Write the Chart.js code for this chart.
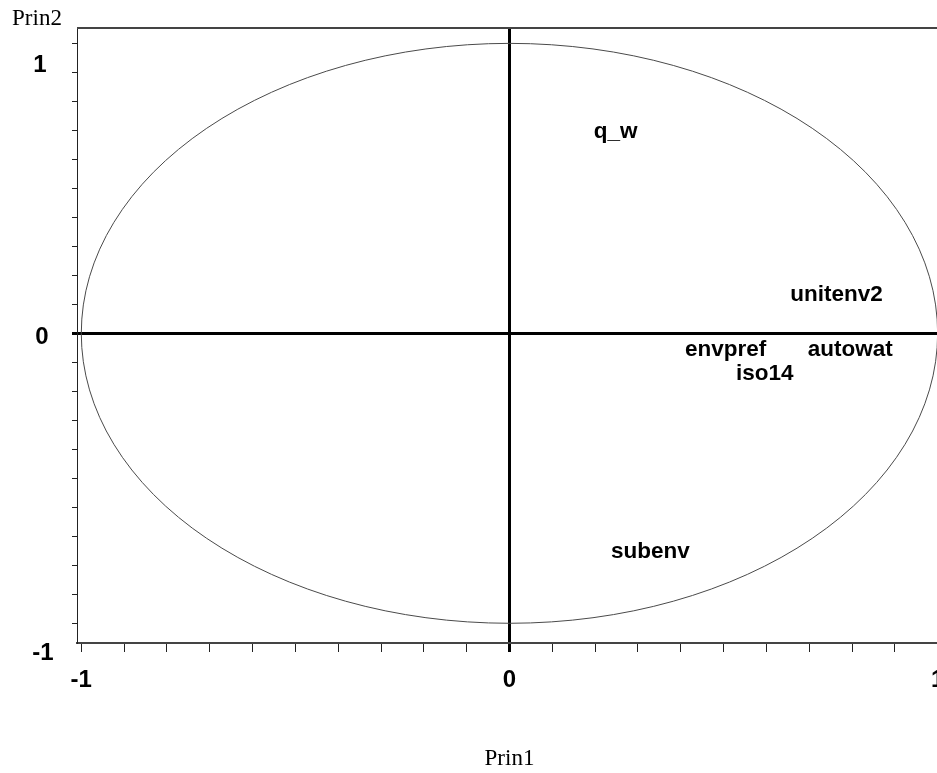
<!DOCTYPE html>
<html><head><meta charset="utf-8">
<script src="https://cdn.jsdelivr.net/npm/chart.js@4/dist/chart.umd.min.js"></script>
<style>html,body{margin:0;padding:0;background:#fff;overflow:hidden;width:937px;height:773px}canvas{display:block}</style>
</head><body><canvas id="c" width="960" height="773"></canvas>
<script>
// ---- data ----
const varNames = ['q_w', 'unitenv2', 'envpref', 'autowat', 'iso14', 'subenv'];
const prin1 = [0.248, 0.764, 0.505, 0.796, 0.596, 0.329];
const prin2 = [0.695, 0.134, -0.058, -0.058, -0.138, -0.754];
const xTickValues = [-1, -0.9, -0.8, -0.7, -0.6, -0.5, -0.4, -0.3, -0.2, -0.1, 0, 0.1, 0.2, 0.3, 0.4, 0.5, 0.6, 0.7, 0.8, 0.9, 1];
const yTickValues = [-1, -0.9, -0.8, -0.7, -0.6, -0.5, -0.4, -0.3, -0.2, -0.1, 0, 0.1, 0.2, 0.3, 0.4, 0.5, 0.6, 0.7, 0.8, 0.9, 1];
const xTickLabels = [-1, 0, 1];
const yTickLabels = [1, 0, -1];
const xTitle = 'Prin1';
const yTitle = 'Prin2';
const circleRadius = 1;

const near = (a, b) => Math.abs(a - b) < 1e-9;
const isZero = v => near(v, 0);
const isLabeled = (v, arr) => arr.some(a => near(a, v));

const overlay = {
  id: 'overlay',
  beforeDatasetsDraw(chart) {
    const { ctx, chartArea: a, scales: { x, y } } = chart;
    ctx.save();
    ctx.beginPath();
    ctx.rect(a.left, a.top, a.right - a.left, a.bottom - a.top);
    ctx.clip();
    const cx = x.getPixelForValue(0), cy = y.getPixelForValue(0);
    const rx = x.getPixelForValue(circleRadius) - cx;
    const ry = cy - y.getPixelForValue(circleRadius);
    ctx.beginPath();
    ctx.ellipse(cx, cy, rx, ry, 0, 0, Math.PI * 2);
    ctx.strokeStyle = '#4a4a4a';
    ctx.lineWidth = 1;
    ctx.stroke();
    ctx.restore();
    // top frame line
    ctx.save();
    ctx.strokeStyle = '#444';
    ctx.lineWidth = 2;
    ctx.beginPath();
    ctx.moveTo(a.left, a.top);
    ctx.lineTo(a.right, a.top);
    ctx.stroke();
    ctx.restore();
  },
  afterDatasetsDraw(chart) {
    const { ctx } = chart;
    const meta = chart.getDatasetMeta(0);
    ctx.save();
    ctx.font = 'bold 22.5px "Liberation Sans", Arial, sans-serif';
    ctx.fillStyle = '#000';
    ctx.textAlign = 'center';
    ctx.textBaseline = 'middle';
    meta.data.forEach((pt, i) => {
      ctx.fillText(varNames[i], pt.x, pt.y);
    });
    ctx.restore();
  },
  afterDraw(chart) {
    const { ctx, chartArea: a, scales: { x, y } } = chart;
    ctx.save();
    ctx.fillStyle = '#000';
    // y tick labels (SAS-style placement)
    ctx.font = 'bold 24px "Liberation Sans", Arial, sans-serif';
    ctx.textAlign = 'center';
    ctx.textBaseline = 'middle';
    const yOff = { '1': 22, '0': 4, '-1': 30 };
    const xPos = { '1': 40, '0': 42, '-1': 43 };
    yTickLabels.forEach(v => {
      const k = String(v);
      ctx.fillText(k, xPos[k], y.getPixelForValue(v) + yOff[k]);
    });
    // axis titles
    ctx.font = '23px "Liberation Serif", "Times New Roman", serif';
    ctx.textAlign = 'center';
    ctx.fillText(yTitle, 37, 19);
    ctx.fillText(xTitle, x.getPixelForValue(0), 759);
    ctx.restore();
  }
};

new Chart(document.getElementById('c'), {
  type: 'scatter',
  data: {
    datasets: [{
      label: 'variables',
      data: prin1.map((v, i) => ({ x: v, y: prin2[i] })),
      pointRadius: 0,
      pointHoverRadius: 0,
      showLine: false
    }]
  },
  options: {
    responsive: false,
    animation: false,
    events: [],
    layout: { padding: { top: 28, left: 0, right: 9.5, bottom: 0 } },
    plugins: { legend: { display: false }, tooltip: { enabled: false }, title: { display: false } },
    scales: {
      x: {
        type: 'linear',
        min: -1.01,
        max: 1.03,
        afterBuildTicks: s => { s.ticks = xTickValues.map(v => ({ value: v })); },
        afterFit: s => { s.height = 130; },
        ticks: {
          autoSkip: false,
          maxRotation: 0,
          minRotation: 0,
          padding: 14,
          color: '#000',
          font: { family: '"Liberation Sans", Arial, sans-serif', size: 24, weight: 'bold' },
          callback: v => isLabeled(v, xTickLabels) ? String(v) : ''
        },
        grid: {
          drawOnChartArea: true,
          drawTicks: true,
          tickLength: 9,
          color: c => (c.tick && isZero(c.tick.value)) ? '#000' : 'rgba(0,0,0,0)',
          lineWidth: c => (c.tick && isZero(c.tick.value)) ? 3 : 1,
          tickColor: c => (c.tick && isZero(c.tick.value)) ? '#000' : '#222',
          tickWidth: c => (c.tick && isZero(c.tick.value)) ? 3 : 1
        },
        border: { display: true, color: '#444', width: 2 }
      },
      y: {
        type: 'linear',
        min: -1.068,
        max: 1.053,
        afterBuildTicks: s => { s.ticks = yTickValues.map(v => ({ value: v })); },
        afterFit: s => { s.width = 77; },
        ticks: { display: false },
        grid: {
          drawOnChartArea: true,
          drawTicks: true,
          tickLength: 5,
          color: c => (c.tick && isZero(c.tick.value)) ? '#000' : 'rgba(0,0,0,0)',
          lineWidth: c => (c.tick && isZero(c.tick.value)) ? 3 : 1,
          tickColor: c => (c.tick && isZero(c.tick.value)) ? '#000' : '#222',
          tickWidth: c => (c.tick && isZero(c.tick.value)) ? 3 : 1
        },
        border: { display: true, color: '#222', width: 1 }
      }
    }
  },
  plugins: [overlay]
});
</script>
</body></html>
